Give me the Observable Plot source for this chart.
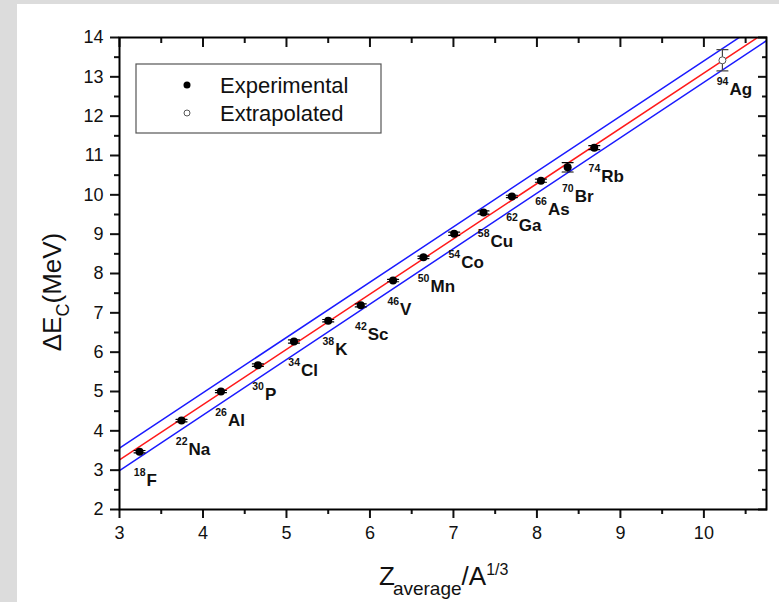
<!DOCTYPE html>
<html><head><meta charset="utf-8">
<script src="https://cdn.jsdelivr.net/npm/d3@7"></script>
<script src="https://cdn.jsdelivr.net/npm/@observablehq/plot@0.6"></script>
<style>
html,body{margin:0;padding:0;background:#dcdcdc;}
body{padding:4px 0 0 17px;width:762px;height:598px;overflow:hidden;}
#wrap{width:762px;height:598px;background:#fff;}
</style></head><body><div id="wrap"></div>
<script>
const massNumber = [18, 22, 26, 30, 34, 38, 42, 46, 50, 54, 58, 62, 66, 70, 74, 94];
const element = ["F", "Na", "Al", "P", "Cl", "K", "Sc", "V", "Mn", "Co", "Cu", "Ga", "As", "Br", "Rb", "Ag"];
const zOverA = [3.24, 3.743, 4.215, 4.658, 5.09, 5.50, 5.89, 6.277, 6.641, 7.009, 7.36, 7.70, 8.048, 8.368, 8.687, 10.222];
const deltaE = [3.47, 4.26, 5.00, 5.67, 6.27, 6.80, 7.19, 7.82, 8.41, 9.01, 9.55, 9.96, 10.36, 10.70, 11.20, 13.42];
const deltaEErr = [0.03, 0.03, 0.03, 0.03, 0.04, 0.03, 0.04, 0.03, 0.03, 0.04, 0.04, 0.03, 0.04, 0.12, 0.05, 0.27];
const kind = ["Experimental", "Experimental", "Experimental", "Experimental", "Experimental", "Experimental", "Experimental", "Experimental", "Experimental", "Experimental", "Experimental", "Experimental", "Experimental", "Experimental", "Experimental", "Extrapolated"];

const xTicks = [3, 4, 5, 6, 7, 8, 9, 10];
const xMinorTicks = [3.5, 4.5, 5.5, 6.5, 7.5, 8.5, 9.5, 10.5];
const yTicks = [2, 3, 4, 5, 6, 7, 8, 9, 10, 11, 12, 13, 14];
const yMinorTicks = [2.5, 3.5, 4.5, 5.5, 6.5, 7.5, 8.5, 9.5, 10.5, 11.5, 12.5, 13.5];

const lineX = [3, 10.75];
const fitY = [3.26, 14.15];
const upperY = [3.56, 14.46];
const lowerY = [2.99, 13.92];

const legendItems = ["Experimental", "Extrapolated"];

const points = zOverA.map((x, i) => ({x, y: deltaE[i], err: deltaEErr[i], mass: String(massNumber[i]), el: element[i], kind: kind[i]}));
const fit = lineX.map((x, i) => ({x, y: fitY[i]}));
const upper = lineX.map((x, i) => ({x, y: upperY[i]}));
const lower = lineX.map((x, i) => ({x, y: lowerY[i]}));
const exp = points.filter(d => d.kind === "Experimental");
const extra = points.filter(d => d.kind === "Extrapolated");

const font = "'Liberation Sans', Arial, sans-serif";
const capShape = {draw(context, l) { context.moveTo(-l / 2, 0); context.lineTo(l / 2, 0); }};
const blank = () => "";
const barColor = d => d.kind === "Experimental" ? "#000" : "#444";

const plot = Plot.plot({
  width: 762, height: 598,
  marginLeft: 102, marginTop: 33, marginRight: 13, marginBottom: 93,
  style: {fontFamily: font, color: "#111", background: "transparent"},
  x: {domain: [3, 10.75]},
  y: {domain: [2, 14]},
  marks: [
    Plot.line(upper, {x: "x", y: "y", stroke: "#1a1aff", strokeWidth: 1.5, clip: true}),
    Plot.line(lower, {x: "x", y: "y", stroke: "#1a1aff", strokeWidth: 1.5, clip: true}),
    Plot.line(fit, {x: "x", y: "y", stroke: "#ff1a1a", strokeWidth: 1.5, clip: true}),
    // error bars
    Plot.ruleX(points, {x: "x", y1: d => d.y - d.err, y2: d => d.y + d.err, stroke: barColor, strokeWidth: 1.2}),
    Plot.vector(points, {x: "x", y: d => d.y - d.err, length: 11, shape: capShape, anchor: "start", stroke: barColor, strokeWidth: 1.2}),
    Plot.vector(points, {x: "x", y: d => d.y + d.err, length: 11, shape: capShape, anchor: "start", stroke: barColor, strokeWidth: 1.2}),
    Plot.dot(exp, {x: "x", y: "y", r: 4, fill: "#000", stroke: "none"}),
    Plot.dot(extra, {x: "x", y: "y", r: 3.5, fill: "#fff", stroke: "#555", strokeWidth: 1}),
    // isotope labels
    Plot.text(points, {x: "x", y: "y", text: "mass", textAnchor: "end", dx: 6, dy: 21, fontSize: 10.5, fontWeight: "bold", fill: "#111"}),
    Plot.text(points, {x: "x", y: "y", text: "el", textAnchor: "start", dx: 7, dy: 29, fontSize: 17, fontWeight: "bold", fill: "#111"}),
    // axes
    Plot.axisX(xTicks, {anchor: "bottom", tickSize: 9, tickPadding: 8, strokeWidth: 2, fontSize: 18, label: null}),
    Plot.axisX(xMinorTicks, {anchor: "bottom", tickSize: 5, strokeWidth: 2, tickFormat: blank, label: null}),
    Plot.axisX(xTicks, {anchor: "top", tickSize: 9, dy: 9, strokeWidth: 2, tickFormat: blank, label: null}),
    Plot.axisX(xMinorTicks, {anchor: "top", tickSize: 5, dy: 5, strokeWidth: 2, tickFormat: blank, label: null}),
    Plot.axisY(yTicks, {anchor: "left", tickSize: 9, tickPadding: 7, strokeWidth: 2, fontSize: 18, label: null}),
    Plot.axisY(yMinorTicks, {anchor: "left", tickSize: 5, strokeWidth: 2, tickFormat: blank, label: null}),
    Plot.axisY(yTicks, {anchor: "right", tickSize: 9, dx: -9, strokeWidth: 2, tickFormat: blank, label: null}),
    Plot.axisY(yMinorTicks, {anchor: "right", tickSize: 5, dx: -5, strokeWidth: 2, tickFormat: blank, label: null}),
    Plot.frame({stroke: "#000", strokeWidth: 2})
  ]
});

const svg = d3.select(plot);

// y-axis title: ΔE_C(MeV)
const yt = svg.append("text")
  .attr("transform", "translate(44,288) rotate(-90)")
  .attr("text-anchor", "middle")
  .attr("font-family", font)
  .attr("font-size", 26)
  .attr("fill", "#111");
yt.append("tspan").text("ΔE");
yt.append("tspan").attr("font-size", 18).attr("dy", 8).text("C");
yt.append("tspan").attr("dy", -8).text("(MeV)");

// x-axis title: Z_average/A^1/3
const xt = svg.append("text")
  .attr("x", 362).attr("y", 581)
  .attr("text-anchor", "start")
  .attr("font-family", font)
  .attr("font-size", 26)
  .attr("fill", "#111");
xt.append("tspan").text("Z");
xt.append("tspan").attr("font-size", 19).attr("dx", -2).attr("dy", 10).text("average");
xt.append("tspan").attr("dy", -10).text("/A");
xt.append("tspan").attr("font-size", 16).attr("dy", -10).text("1/3");

// legend
const lg = svg.append("g").attr("font-family", font).attr("text-anchor", "start");
lg.append("rect").attr("x", 119).attr("y", 60).attr("width", 245).attr("height", 69)
  .attr("fill", "#fff").attr("stroke", "#555").attr("stroke-width", 1.2);
lg.append("circle").attr("cx", 170).attr("cy", 81).attr("r", 3.5).attr("fill", "#000");
lg.append("circle").attr("cx", 170).attr("cy", 109).attr("r", 3).attr("fill", "#fff").attr("stroke", "#555").attr("stroke-width", 1);
legendItems.forEach((t, i) => {
  lg.append("text").attr("x", 203).attr("y", 81 + i * 28).attr("dy", "0.35em")
    .attr("text-anchor", "start")
    .attr("font-size", 22).attr("fill", "#111").text(t);
});

document.getElementById("wrap").appendChild(plot);
</script>
</body></html>
